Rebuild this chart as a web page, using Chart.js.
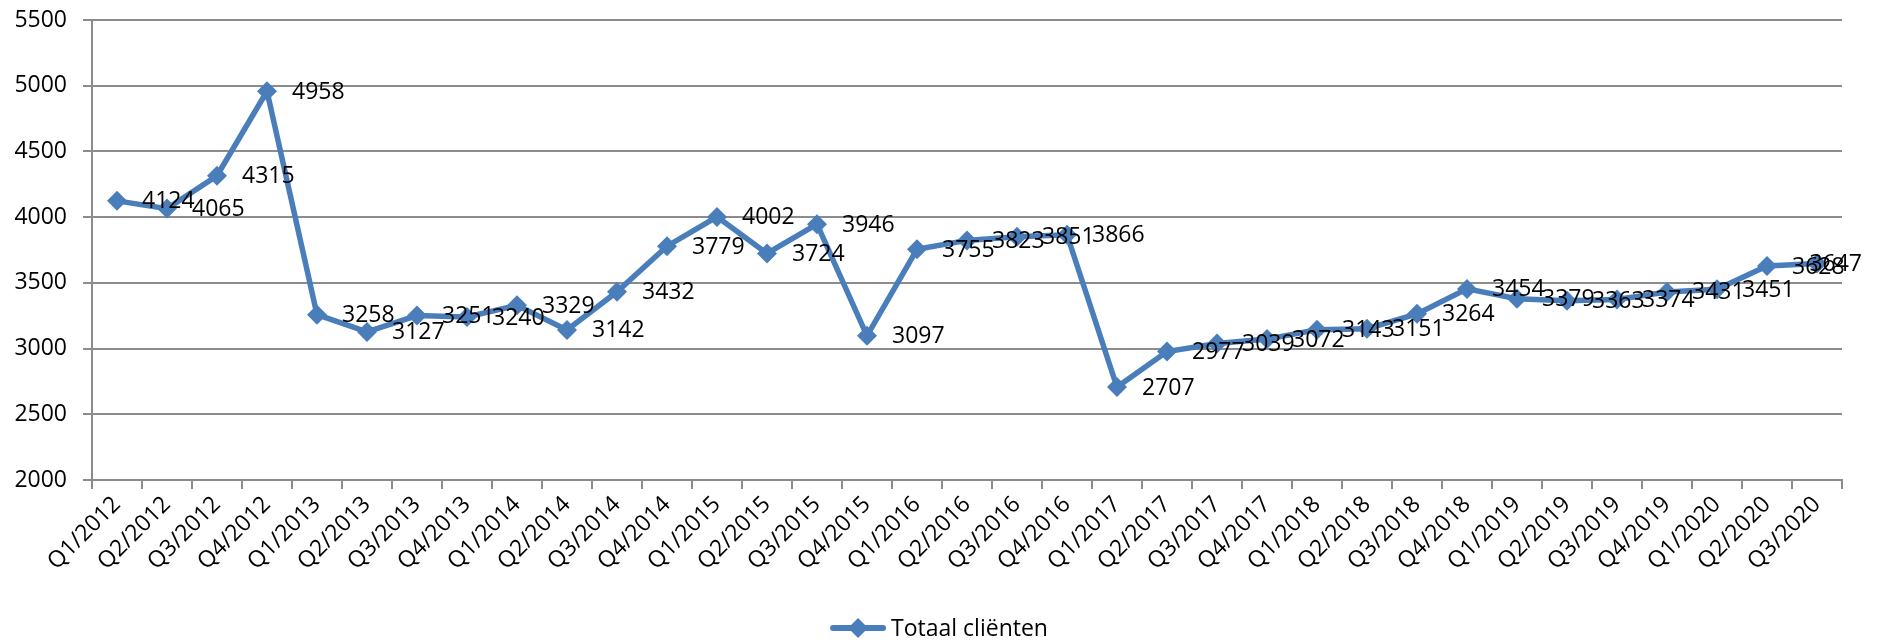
<!DOCTYPE html>
<html>
<head>
<meta charset="utf-8">
<script src="https://cdn.jsdelivr.net/npm/chart.js@4/dist/chart.umd.min.js"></script>
<style>
    html, body { margin: 0; padding: 0; background: #fff; }
    #wrap { width: 1878px; height: 641px; }
</style>
</head>
<body>
<div id="wrap"><canvas id="clients"></canvas></div>
<script>
// kwartalen
const quarters = [
    'Q1/2012', 'Q2/2012', 'Q3/2012', 'Q4/2012',
    'Q1/2013', 'Q2/2013', 'Q3/2013', 'Q4/2013',
    'Q1/2014', 'Q2/2014', 'Q3/2014', 'Q4/2014',
    'Q1/2015', 'Q2/2015', 'Q3/2015', 'Q4/2015',
    'Q1/2016', 'Q2/2016', 'Q3/2016', 'Q4/2016',
    'Q1/2017', 'Q2/2017', 'Q3/2017', 'Q4/2017',
    'Q1/2018', 'Q2/2018', 'Q3/2018', 'Q4/2018',
    'Q1/2019', 'Q2/2019', 'Q3/2019', 'Q4/2019',
    'Q1/2020', 'Q2/2020', 'Q3/2020'
];
// totaal cliënten per kwartaal
const totalClients = [
    4124, 4065, 4315, 4958,
    3258, 3127, 3251, 3240,
    3329, 3142, 3432, 3779,
    4002, 3724, 3946, 3097,
    3755, 3823, 3851, 3866,
    2707, 2977, 3039, 3072,
    3143, 3151, 3264, 3454,
    3379, 3363, 3374, 3431,
    3451, 3628, 3647
];
const yMin = 2000;
const yMax = 5500;
const yStep = 500;

const blue = '#4a7ebb';
const gridGray = '#8c8c8c';
const fontFamily = '"Open Sans", "Noto Sans", sans-serif';

function diamond(ctx, cx, cy, r) {
    ctx.beginPath();
    ctx.moveTo(cx, cy - r);
    ctx.lineTo(cx + r, cy);
    ctx.lineTo(cx, cy + r);
    ctx.lineTo(cx - r, cy);
    ctx.closePath();
    ctx.fill();
}

// waarden rechts naast de punten
const valueLabels = {
    id: 'valueLabels',
    afterDatasetsDraw(chart) {
        const ctx = chart.ctx;
        const meta = chart.getDatasetMeta(0);
        ctx.save();
        ctx.font = '23px ' + fontFamily;
        ctx.fillStyle = '#000';
        ctx.textAlign = 'left';
        ctx.textBaseline = 'middle';
        meta.data.forEach((pt, i) => {
            const txt = String(chart.data.datasets[0].data[i]);
            const w = ctx.measureText(txt).width;
            let x = pt.x + 25;
            // laatste label past niet meer, schuif het naar links
            if (x + w > chart.width - 16) {
                x = chart.width - 16 - w;
            }
            ctx.fillText(txt, x, pt.y + 1);
        });
        ctx.restore();
    }
};

// legenda onderaan: lijn met ruit + tekst
const lineLegend = {
    id: 'lineLegend',
    afterDraw(chart) {
        const ctx = chart.ctx;
        const ds = chart.data.datasets[0];
        ctx.save();
        ctx.font = '23px ' + fontFamily;
        const textW = ctx.measureText(ds.label).width;
        const lineW = 56;
        const gap = 5;
        const total = lineW + gap + textW;
        const x0 = chart.width / 2 - total / 2;
        const y = chart.height - 13;

        ctx.strokeStyle = blue;
        ctx.lineWidth = 6;
        ctx.lineCap = 'round';
        ctx.beginPath();
        ctx.moveTo(x0 + 3, y);
        ctx.lineTo(x0 + lineW - 3, y);
        ctx.stroke();
        ctx.fillStyle = blue;
        diamond(ctx, x0 + lineW / 2, y, 10);

        ctx.fillStyle = '#000';
        ctx.textAlign = 'left';
        ctx.textBaseline = 'middle';
        ctx.fillText(ds.label, x0 + lineW + gap, y + 1);
        ctx.restore();
    }
};

new Chart(document.getElementById('clients'), {
    type: 'line',
    data: {
        labels: quarters,
        datasets: [{
            label: 'Totaal cliënten',
            data: totalClients,
            borderColor: blue,
            backgroundColor: blue,
            borderWidth: 5.5,
            pointStyle: 'rectRot',
            pointRadius: 10,
            pointBorderWidth: 0,
            pointBackgroundColor: blue,
            tension: 0
        }]
    },
    options: {
        responsive: true,
        maintainAspectRatio: false,
        animation: false,
        layout: {
            padding: {left: 0, right: 36, top: 20, bottom: 36}
        },
        plugins: {
            tooltip: {enabled: false},
            legend: {display: false}
        },
        scales: {
            x: {
                offset: true,
                grid: {
                    offset: true,
                    drawOnChartArea: false,
                    drawTicks: true,
                    tickLength: 9,
                    color: gridGray,
                    lineWidth: 2
                },
                border: {color: gridGray, width: 2},
                ticks: {
                    autoSkip: false,
                    maxRotation: 45,
                    minRotation: 45,
                    padding: 2,
                    color: '#000',
                    font: {family: fontFamily, size: 23}
                },
                afterFit(scale) {
                    scale.height = 125;
                }
            },
            y: {
                min: yMin,
                max: yMax,
                ticks: {
                    stepSize: yStep,
                    padding: 16,
                    color: '#000',
                    font: {family: fontFamily, size: 23},
                    callback: (v) => String(v)
                },
                grid: {
                    color: gridGray,
                    lineWidth: 2,
                    tickLength: 9
                },
                border: {color: gridGray, width: 2},
                afterFit(scale) {
                    scale.width = 92;
                    scale.paddingTop = 0;
                    scale.paddingBottom = 0;
                }
            }
        }
    },
    plugins: [valueLabels, lineLegend]
});
</script>
</body>
</html>
